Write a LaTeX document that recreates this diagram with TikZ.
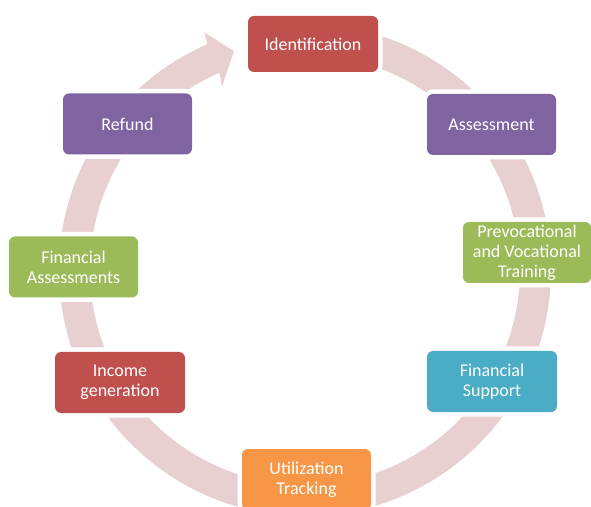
\documentclass[tikz,border=0pt]{standalone}
\usepackage{fontspec}
\setmainfont{Carlito}
\definecolor{bandpink}{RGB}{232,208,209}
\definecolor{boxred}{RGB}{192,80,77}
\definecolor{boxpurple}{RGB}{128,100,162}
\definecolor{boxgreen}{RGB}{155,187,89}
\definecolor{boxteal}{RGB}{75,172,198}
\definecolor{boxorange}{RGB}{247,150,70}
\tikzset{
	cyclebox/.style={rounded corners=6pt, minimum width=129pt, minimum height=61pt,
		inner sep=0pt, align=center, text=white, font=\fontsize{18}{20}\selectfont,
		preaction={draw=white, line width=9pt}, fill=#1}
}
\begin{document}
\begin{tikzpicture}[x=1pt,y=1pt]
		\clip (0,0) rectangle (591,506);

		% Draw the circular arrow behind the boxes
		\begin{scope}[shift={(305,236)}]
		\fill[bandpink] (92:246) arc[start angle=92, end angle=-246.6, radius=246]
			-- (-247:258.5) -- (-252:230) -- (-245.6:201) -- (-246.6:215)
			arc[start angle=-246.6, end angle=92, radius=215] -- cycle;
		\end{scope}

		% -----------------------------------------------------
		% Draw the boxes, clockwise from the top
		\node[cyclebox=boxred, minimum width=130pt, minimum height=56pt] (ident) at (313,462) {Identification};
		\node[cyclebox=boxpurple] (assess) at (491.5,381.5) {Assessment};
		\node[cyclebox=boxgreen, minimum width=128pt] (prevoc) at (527,253.5) {Prevocational\\and Vocational\\Training};
		\node[cyclebox=boxteal, minimum width=130pt] (finsup) at (492,124.5) {Financial\\Support};
		\node[cyclebox=boxorange] (util) at (306.5,26.5) {Utilization\\Tracking};
		\node[cyclebox=boxred, minimum width=130pt] (income) at (120,123.5) {Income\\generation};
		\node[cyclebox=boxgreen] (finass) at (73.5,239) {Financial\\Assessments};
		\node[cyclebox=boxpurple] (refund) at (127.5,382) {Refund};

\end{tikzpicture}
\end{document}
